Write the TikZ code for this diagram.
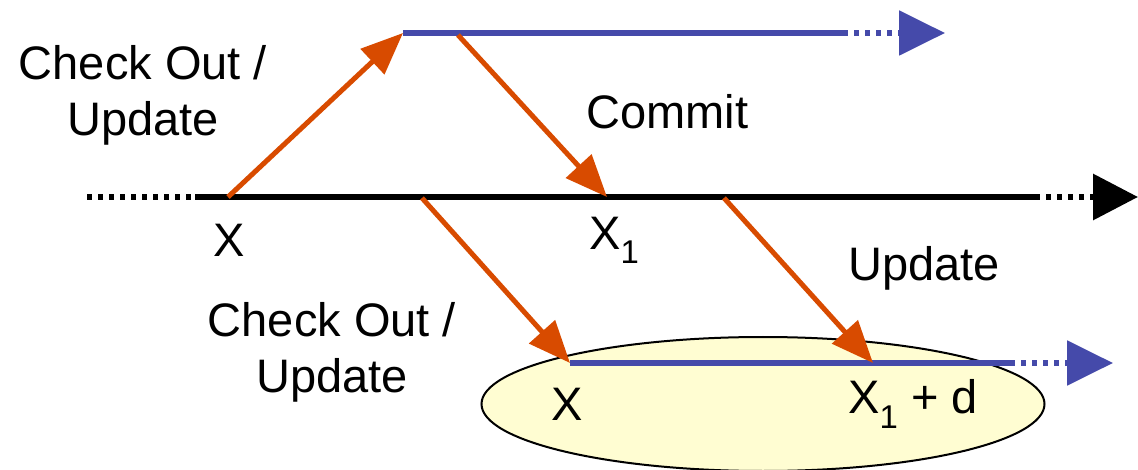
\documentclass[tikz,border=0pt]{standalone}
\usepackage{fontspec}
\setmainfont{Liberation Sans}
\usetikzlibrary{arrows.meta,shapes.geometric}
\definecolor{orng}{HTML}{D84B00}
\definecolor{blu}{HTML}{454AAA}
\definecolor{ellfill}{HTML}{FFFDD2}
\tikzset{
  lbl/.style={font=\fontsize{47}{56}\selectfont, inner sep=0pt},
  flow/.style={draw=orng, line width=5pt, -{Triangle[length=42pt,width=34pt]}},
  blueline/.style={draw=blu, line width=5.5pt},
  bluedots/.style={draw=blu, line width=5.5pt, dash pattern=on 5pt off 6pt, -{Triangle[length=46pt,width=44pt]}},
  mainline/.style={draw=black, line width=6.5pt},
  maindots/.style={draw=black, line width=6.5pt, dash pattern=on 5pt off 6pt},
}
\begin{document}
\begin{tikzpicture}[x=1pt,y=-1pt]
\useasboundingbox (0,0) rectangle (1138,470);
% ellipse
\node[ellipse, draw=black, line width=2pt, fill=ellfill, minimum width=563pt, minimum height=134pt, inner sep=0pt] (ell) at (763,404) {};
% coordinates
\coordinate (m0) at (87,197);
\coordinate (m1) at (195,197);
\coordinate (m2) at (1035,197);
\coordinate (m3) at (1138,197);
\coordinate (t0) at (403,33);
\coordinate (t1) at (843,33);
\coordinate (t2) at (945,33);
\coordinate (b0) at (570,363);
\coordinate (b1) at (1010,363);
\coordinate (b2) at (1113,363);
\coordinate (x) at (228,197);
\coordinate (x1) at (607,197);
\coordinate (c1) at (458,35);
\coordinate (c2) at (422,198);
\coordinate (c3) at (724,198);
\coordinate (bx1) at (873,363);
% main line
\draw[maindots] (m0) -- (m1);
\draw[mainline] (m1) -- (m2);
\draw[maindots, -{Triangle[length=45pt,width=45pt]}] (m2) -- (m3);
% top line
\draw[blueline] (t0) -- (t1);
\draw[bluedots] (t1) -- (t2);
% bottom line
\draw[blueline] (b0) -- (b1);
\draw[bluedots] (b1) -- (b2);
% orange arrows
\draw[flow] (x) -- (t0);
\draw[flow] (c1) -- (x1);
\draw[flow] (c2) -- (b0);
\draw[flow] (c3) -- (bx1);
% labels
\node[lbl, anchor=north, align=center] (lco1) at (143,45) {Check Out /\\Update};
\node[lbl, anchor=west] (lcommit) at (586,112) {Commit};
\node[lbl] (lx) at (229,240) {X};
\node[lbl, anchor=west] (lx1) at (589,240) {X\textsubscript{1}};
\node[lbl, anchor=west] (lupd) at (848,268) {Update};
\node[lbl, anchor=north, align=center] (lco2) at (332,302) {Check Out /\\Update};
\node[lbl] (lxb) at (567,404) {X};
\node[lbl, anchor=west] (lx1d) at (848,404) {X\textsubscript{1} + d};
\end{tikzpicture}
\end{document}
